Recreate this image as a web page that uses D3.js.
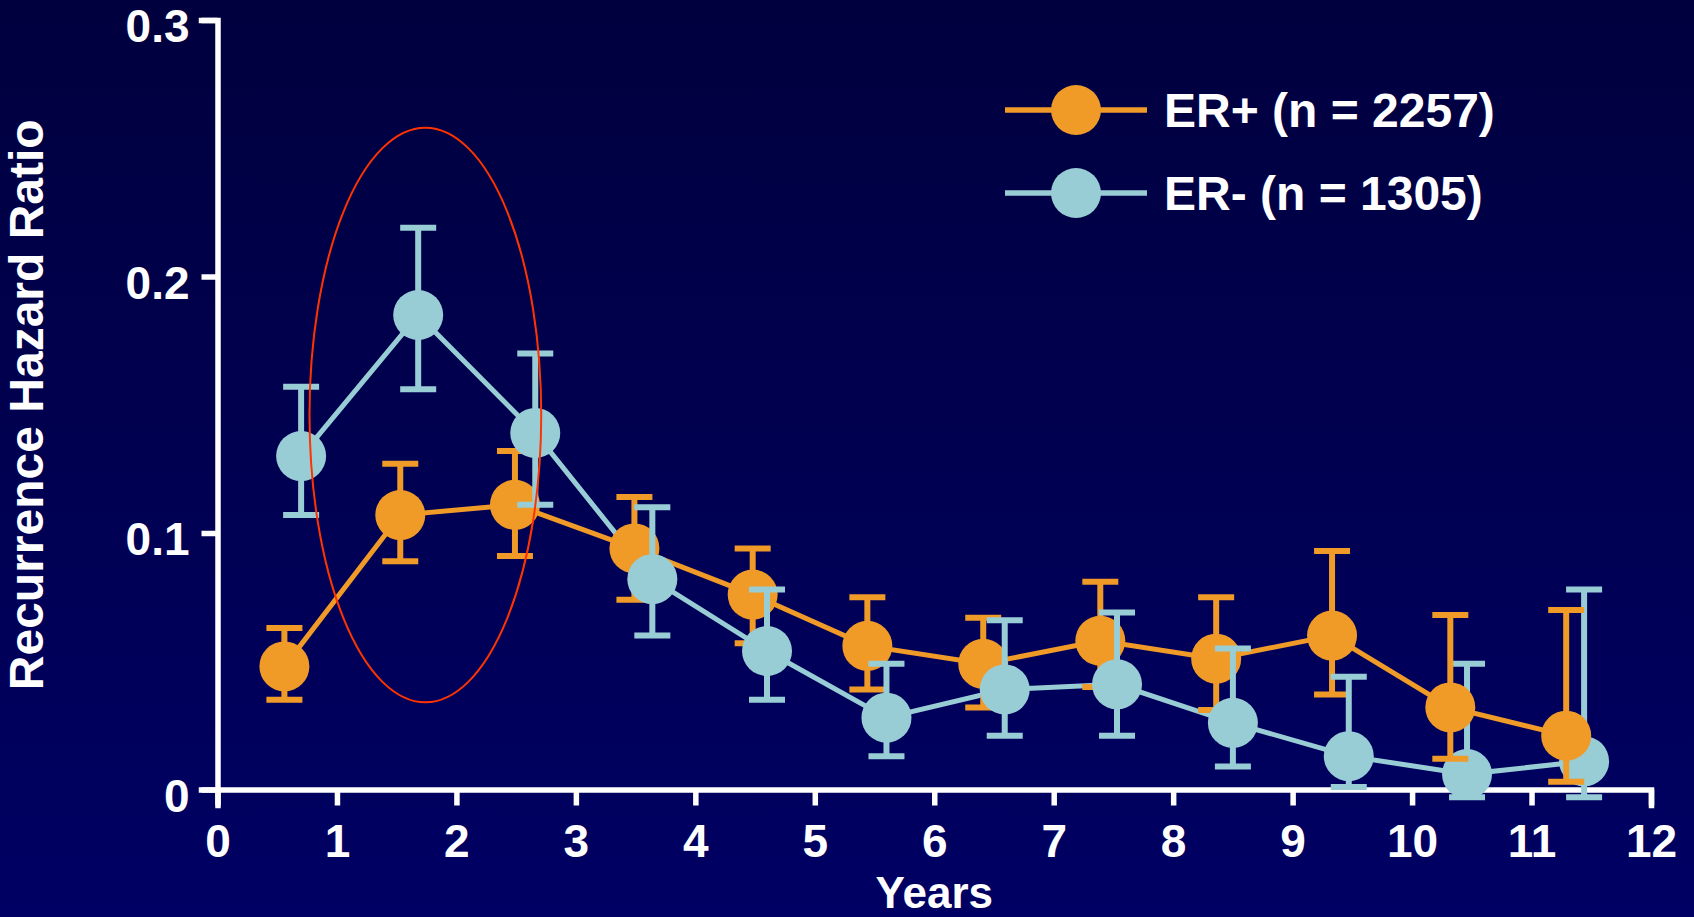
<!DOCTYPE html>
<html>
<head>
<meta charset="utf-8">
<script src="https://cdn.jsdelivr.net/npm/d3@7"></script>
<style>
  html, body { margin: 0; padding: 0; background: #000050; overflow: hidden; }
  svg { display: block; }
  text { font-family: "Liberation Sans", Arial, Helvetica, sans-serif; font-weight: bold; fill: #ffffff; }
</style>
</head>
<body>
<svg id="chart" width="1694" height="917"></svg>
<script>
// ---- data ----
const xTicks = [0, 1, 2, 3, 4, 5, 6, 7, 8, 9, 10, 11, 12];
const yTicks = [0, 0.1, 0.2, 0.3];
const yTickLabels = ["0", "0.1", "0.2", "0.3"];

const erPosYears = [0.56, 1.53, 2.49, 3.49, 4.48, 5.44, 6.41, 7.39, 8.36, 9.33, 10.32, 11.29];
const erPosHR    = [0.048, 0.107, 0.111, 0.094, 0.076, 0.056, 0.049, 0.058, 0.051, 0.060, 0.032, 0.021];
const erPosUpper = [0.063, 0.127, 0.132, 0.114, 0.094, 0.075, 0.067, 0.081, 0.075, 0.093, 0.068, 0.070];
const erPosLower = [0.035, 0.089, 0.091, 0.074, 0.057, 0.039, 0.032, 0.040, 0.031, 0.037, 0.012, 0.003];

const erNegYears = [0.70, 1.68, 2.66, 3.64, 4.60, 5.60, 6.59, 7.53, 8.50, 9.47, 10.46, 11.44];
const erNegHR    = [0.130, 0.185, 0.139, 0.082, 0.054, 0.028, 0.039, 0.041, 0.026, 0.013, 0.006, 0.011];
const erNegUpper = [0.157, 0.219, 0.170, 0.110, 0.078, 0.049, 0.066, 0.069, 0.055, 0.044, 0.049, 0.078];
const erNegLower = [0.107, 0.156, 0.111, 0.060, 0.035, 0.013, 0.021, 0.021, 0.009, 0.001, -0.003, -0.003];

const seriesLabels = ["ER+ (n = 2257)", "ER- (n = 1305)"];
const xTitle = "Years";
const yTitle = "Recurrence Hazard Ratio";

// highlight ellipse (data units): center year, center HR, radius years, radius HR
const highlightEllipse = { cx: 1.74, cy: 0.146, rx: 0.97, ry: 0.112 };

// ---- styling ----
const ORANGE = "#F09A28";
const CYAN = "#99CDD6";
const RED = "#FF3300";

const svg = d3.select("#chart");
const W = 1694, H = 917;

const defs = svg.append("defs");
const grad = defs.append("linearGradient").attr("id", "bg").attr("x1", 0).attr("y1", 0).attr("x2", 0).attr("y2", 1);
grad.append("stop").attr("offset", "0%").attr("stop-color", "#00003E");
grad.append("stop").attr("offset", "100%").attr("stop-color", "#000064");
svg.append("rect").attr("width", W).attr("height", H).attr("fill", "url(#bg)");

const x = d3.scaleLinear().domain([0, 12]).range([217.5, 1651]);
const y = d3.scaleLinear().domain([0, 0.3]).range([789.5, 20]);

// ---- axes ----
const axisFont = 46;
const yAxis = svg.append("g")
  .attr("transform", `translate(${x(0)},0)`)
  .call(d3.axisLeft(y).tickValues(yTicks).tickFormat((d, i) => yTickLabels[i])
        .tickSize(16).tickPadding(12));
const xAxis = svg.append("g")
  .attr("transform", `translate(0,${y(0)})`)
  .call(d3.axisBottom(x).tickValues(xTicks).tickFormat(d3.format("d"))
        .tickSize(16).tickPadding(19));

[yAxis, xAxis].forEach(g => {
  g.attr("color", "#ffffff");
  g.select(".domain").attr("stroke-width", 5.5).attr("stroke-linecap", "square").attr("stroke-linejoin", "miter");
  g.selectAll(".tick line").attr("stroke-width", 5.5);
  g.selectAll(".tick text")
    .attr("font-size", axisFont)
    .attr("font-family", "'Liberation Sans', Arial, sans-serif")
    .attr("font-weight", "bold")
    .attr("fill", "#ffffff");
});
yAxis.selectAll(".tick text").attr("dy", "0.47em");

// axis titles
svg.append("text")
  .attr("transform", `translate(43,${(y(0) + y(0.3)) / 2}) rotate(-90)`)
  .attr("text-anchor", "middle")
  .attr("font-size", 48)
  .text(yTitle);

svg.append("text")
  .attr("x", (x(0) + x(12)) / 2)
  .attr("y", 907.5)
  .attr("text-anchor", "middle")
  .attr("font-size", 44)
  .text(xTitle);

// ---- series ----
const series = [
  { color: ORANGE, xs: erPosYears, v: erPosHR, hi: erPosUpper, lo: erPosLower },
  { color: CYAN,   xs: erNegYears, v: erNegHR, hi: erNegUpper, lo: erNegLower }
];

const line = d3.line().x(d => x(d[0])).y(d => y(d[1]));
const linesG = svg.append("g");
series.forEach(s => {
  linesG.append("path")
    .datum(s.xs.map((xv, i) => [xv, s.v[i]]))
    .attr("d", line)
    .attr("fill", "none")
    .attr("stroke", s.color)
    .attr("stroke-width", 5);
});

// points with error bars, drawn point by point
const R = 25, CAP = 18;
const pointsG = svg.append("g");
function drawPoint(s, i) {
  const g = pointsG.append("g");
  const cx = x(s.xs[i]);
  g.append("line").attr("x1", cx).attr("x2", cx).attr("y1", y(s.hi[i])).attr("y2", y(s.lo[i]))
    .attr("stroke", s.color).attr("stroke-width", 6);
  [s.hi[i], s.lo[i]].forEach(v => {
    g.append("line").attr("x1", cx - CAP).attr("x2", cx + CAP).attr("y1", y(v)).attr("y2", y(v))
      .attr("stroke", s.color).attr("stroke-width", 6);
  });
  g.append("circle").attr("cx", cx).attr("cy", y(s.v[i])).attr("r", R).attr("fill", s.color);
}
erPosYears.forEach((_, i) => {
  if (i < 10) { drawPoint(series[0], i); drawPoint(series[1], i); }
  else { drawPoint(series[1], i); drawPoint(series[0], i); }
});

// highlight ellipse
svg.append("ellipse")
  .attr("cx", x(highlightEllipse.cx))
  .attr("cy", y(highlightEllipse.cy))
  .attr("rx", x(highlightEllipse.rx) - x(0))
  .attr("ry", y(0) - y(highlightEllipse.ry))
  .attr("fill", "none")
  .attr("stroke", RED)
  .attr("stroke-width", 2);

// ---- legend ----
const legend = svg.append("g");
const legendRows = [110, 193];
series.forEach((s, i) => {
  const ly = legendRows[i];
  legend.append("line").attr("x1", 1005).attr("x2", 1147).attr("y1", ly).attr("y2", ly)
    .attr("stroke", s.color).attr("stroke-width", 5.5);
  legend.append("circle").attr("cx", 1076).attr("cy", ly).attr("r", R).attr("fill", s.color);
  legend.append("text").attr("x", 1164).attr("y", ly + 17).attr("font-size", 48).text(seriesLabels[i]);
});
</script>
</body>
</html>
